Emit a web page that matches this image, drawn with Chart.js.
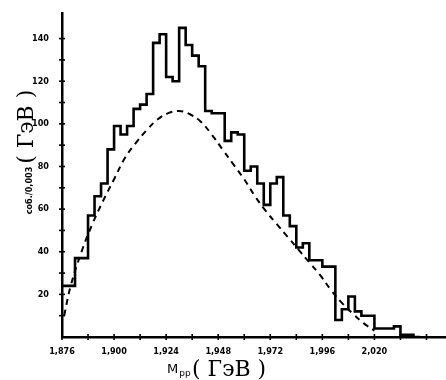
<!DOCTYPE html>
<html>
<head>
<meta charset="utf-8">
<script src="https://cdn.jsdelivr.net/npm/chart.js@4/dist/chart.umd.min.js"></script>
<style>
  html, body { margin: 0; padding: 0; background: #fff; }
  #wrap { width: 446px; height: 380px; }
</style>
</head>
<body>
<div id="wrap"><canvas id="myChart" width="446" height="380"></canvas></div>
<script>
// гистограмма: события на бин 3 МэВ, начиная с 1876 МэВ
const binStart = 1876;
const binWidth = 3;
const counts = [
  24, 24, 37, 37, 57, 66, 72, 88, 99, 95,
  99, 107, 109, 114, 138, 142, 122, 120, 145, 137,
  132, 127, 106, 105, 105, 92, 96, 95, 78, 80,
  72, 62, 72, 75, 57, 52, 42, 44, 36, 36,
  33, 33, 8, 13, 19, 12, 10, 10, 4, 4,
  4, 5, 1, 1, 0
];

// пунктирная кривая (фон)
const fitMass = [1877, 1880, 1885, 1890, 1895, 1900, 1905, 1910, 1915, 1920,
  1925, 1930, 1935, 1940, 1945, 1950, 1955, 1960, 1965, 1970,
  1975, 1980, 1985, 1990, 1995, 2000, 2005, 2010, 2015, 2020];
const fitValues = [10, 24, 40, 53, 64, 74, 84, 91, 97, 102,
  105, 106, 104.5, 101, 95, 88, 81, 74, 66, 59,
  53, 47, 41, 35, 29, 22, 16, 11, 6.5, 3];

// подписи осей
const xTickValues = [1876, 1900, 1924, 1948, 1972, 1996, 2020];
const xTickLabels = ['1,876', '1,900', '1,924', '1,948', '1,972', '1,996', '2,020'];
const yTickLabels = [20, 40, 60, 80, 100, 120, 140];

let histData = counts.map((c, i) => ({x: binStart + i * binWidth, y: c}));
histData.push({x: binStart + counts.length * binWidth, y: counts[counts.length - 1]});
let fitData = fitMass.map((m, i) => ({x: m, y: fitValues[i]}));

const tickFont = {family: 'DejaVu Sans Condensed', size: 9, weight: 'bold'};

// крестики делений и подписи осей
const decorPlugin = {
  id: 'decor',
  afterDraw(chart) {
    const ctx = chart.ctx;
    const xs = chart.scales.x, ys = chart.scales.y;
    const area = chart.chartArea;
    ctx.save();
    ctx.strokeStyle = '#000';
    ctx.lineWidth = 1.6;
    for (let v = 1876; v <= 2050; v += 12) {
      let px = xs.getPixelForValue(v);
      ctx.beginPath();
      ctx.moveTo(px, area.bottom - 3);
      ctx.lineTo(px, area.bottom + 3);
      ctx.stroke();
    }
    for (let v = 10; v <= 140; v += 10) {
      let py = ys.getPixelForValue(v);
      ctx.beginPath();
      ctx.moveTo(area.left - 3, py);
      ctx.lineTo(area.left + 3, py);
      ctx.stroke();
    }
    ctx.fillStyle = '#000';
    ctx.textBaseline = 'alphabetic';
    // ось Y
    ctx.save();
    ctx.translate(33, 0);
    ctx.rotate(-Math.PI / 2);
    ctx.font = 'bold 9px "DejaVu Sans Condensed"';
    let small = 'соб./0,003 ';
    let wSmall = ctx.measureText(small).width;
    ctx.font = '22px "DejaVu Serif"';
    let big = '( ГэВ )';
    let wBig = ctx.measureText(big).width;
    let start = -152 - (wSmall + wBig) / 2;
    ctx.font = 'bold 9px "DejaVu Sans Condensed"';
    ctx.fillText(small, start, -1);
    ctx.font = '22px "DejaVu Serif"';
    ctx.fillText(big, start + wSmall, 0);
    ctx.restore();
    // ось X
    ctx.font = '13px "DejaVu Sans"';
    ctx.fillText('M', 167, 373);
    let wM = ctx.measureText('M').width;
    ctx.font = '9px "DejaVu Sans"';
    ctx.fillText('pp', 167 + wM + 1, 376);
    ctx.font = '22px "DejaVu Serif"';
    ctx.fillText('( ГэВ )', 192, 376);
    ctx.restore();
  }
};

let ctx = document.getElementById('myChart');
new Chart(ctx, {
  type: 'line',
  data: {
    datasets: [{
      data: histData,
      borderColor: '#000',
      borderWidth: 2.6,
      stepped: 'before',
      pointRadius: 0,
      fill: false
    }, {
      data: fitData,
      borderColor: '#000',
      borderWidth: 2,
      borderDash: [6, 5],
      tension: 0.4,
      pointRadius: 0,
      fill: false
    }]
  },
  options: {
    responsive: false,
    animation: false,
    events: [],
    layout: { padding: { top: 13, right: 0, left: 0, bottom: 0 } },
    plugins: {
      legend: { display: false },
      tooltip: { enabled: false }
    },
    scales: {
      x: {
        type: 'linear',
        min: 1876,
        max: 2053,
        afterBuildTicks(scale) { scale.ticks = xTickValues.map(v => ({value: v})); },
        afterFit(scale) { scale.height = 43; },
        grid: { display: false },
        border: { display: true, color: '#000', width: 2.5 },
        ticks: {
          autoSkip: false,
          maxRotation: 0,
          padding: 1,
          color: '#000',
          font: tickFont,
          callback: (v) => xTickLabels[xTickValues.indexOf(Math.round(v))] || ''
        }
      },
      y: {
        min: 0,
        max: 152,
        afterFit(scale) { scale.width = 62; },
        grid: { display: false },
        border: { display: true, color: '#000', width: 2.5 },
        ticks: {
          stepSize: 10,
          maxTicksLimit: 40,
          includeBounds: false,
          autoSkip: false,
          padding: 5,
          color: '#000',
          font: tickFont,
          callback: (v) => yTickLabels.includes(v) ? String(v) : ''
        }
      }
    }
  },
  plugins: [decorPlugin]
});
</script>
</body>
</html>
